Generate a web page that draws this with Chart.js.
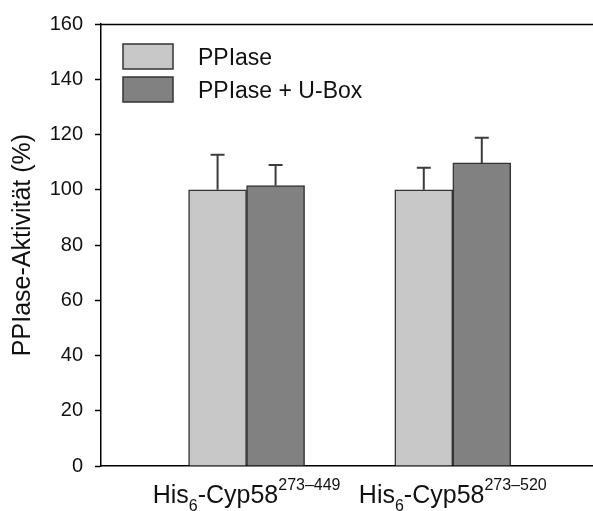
<!DOCTYPE html>
<html>
<head>
<meta charset="utf-8">
<script src="https://cdn.jsdelivr.net/npm/chart.js@4"></script>
<style>
  html, body { margin: 0; padding: 0; background: #fff; }
  #wrap { width: 593px; height: 511px; }
</style>
</head>
<body>
<div id="wrap"><canvas id="activityChart" width="593" height="511"></canvas></div>
<script>
// constructs on the x axis: _{..} is subscript, ^{..} is superscript
const categories = ['His_{6}-Cyp58^{273–449}', 'His_{6}-Cyp58^{273–520}'];
const seriesNames = ['PPIase', 'PPIase + U-Box'];
const ppiaseValues = [100, 100];
const ppiaseErrors = [12.7, 8.0];
const uboxValues = [101.5, 109.7];
const uboxErrors = [7.5, 9.1];
const yTicks = [0, 20, 40, 60, 80, 100, 120, 140, 160];

const FONT = '"Liberation Sans", Arial, sans-serif';
const errors = [ppiaseErrors, uboxErrors];

function toPoints(values) {
    return values.map((v, i) => ({ x: i + 1, y: v }));
}

// split 'His_{6}-Cyp58^{273–449}' into runs of normal/sub/sup text
function parseLabel(str) {
    const parts = [];
    const re = /([_^])\{([^}]*)\}|([^_^]+)/g;
    let m;
    while ((m = re.exec(str)) !== null) {
        if (m[3]) parts.push({ text: m[3], kind: 'normal' });
        else parts.push({ text: m[2], kind: m[1] === '_' ? 'sub' : 'sup' });
    }
    return parts;
}

const decorations = {
    id: 'decorations',
    afterDatasetsDraw(chart) {
        const ctx = chart.ctx;
        const y = chart.scales.y;
        // upward error bars
        ctx.save();
        ctx.strokeStyle = '#3c3c3c';
        ctx.lineWidth = 2;
        chart.data.datasets.forEach((ds, di) => {
            const meta = chart.getDatasetMeta(di);
            meta.data.forEach((bar, i) => {
                const top = y.getPixelForValue(ds.data[i].y + errors[di][i]);
                const base = y.getPixelForValue(ds.data[i].y);
                ctx.beginPath();
                ctx.moveTo(bar.x, base);
                ctx.lineTo(bar.x, top);
                ctx.moveTo(bar.x - 7, top);
                ctx.lineTo(bar.x + 7, top);
                ctx.stroke();
            });
        });
        ctx.restore();
    },
    afterDraw(chart) {
        const ctx = chart.ctx;
        const area = chart.chartArea;
        const x = chart.scales.x;

        ctx.save();
        // top frame line
        ctx.strokeStyle = '#000';
        ctx.lineWidth = 1.5;
        ctx.beginPath();
        ctx.moveTo(area.left, area.top + 0.5);
        ctx.lineTo(area.right, area.top + 0.5);
        ctx.stroke();

        // legend inside the plot
        chart.data.datasets.forEach((ds, i) => {
            const bx = area.left + 22;
            const by = area.top + 20 + i * 33;
            ctx.fillStyle = ds.backgroundColor;
            ctx.fillRect(bx, by, 50, 25);
            ctx.strokeStyle = '#333';
            ctx.lineWidth = 1.5;
            ctx.strokeRect(bx, by, 50, 25);
            ctx.fillStyle = '#111';
            ctx.font = '23px ' + FONT;
            ctx.textBaseline = 'alphabetic';
            ctx.textAlign = 'left';
            ctx.fillText(ds.label, bx + 75, by + 21);
        });

        // category labels with sub/superscripts
        const baseY = area.bottom + 37;
        categories.forEach((label, i) => {
            const parts = parseLabel(label);
            const fontFor = p => (p.kind === 'normal' ? '25px ' : '16px ') + FONT;
            let total = 0;
            parts.forEach(p => { ctx.font = fontFor(p); total += ctx.measureText(p.text).width; });
            let cx = x.getPixelForValue(i + 1) - total / 2;
            ctx.fillStyle = '#111';
            ctx.textAlign = 'left';
            ctx.textBaseline = 'alphabetic';
            parts.forEach(p => {
                ctx.font = fontFor(p);
                const dy = p.kind === 'sub' ? 8 : p.kind === 'sup' ? -13 : 0;
                ctx.fillText(p.text, cx, baseY + dy);
                cx += ctx.measureText(p.text).width;
            });
        });
        ctx.restore();
    }
};

new Chart(document.getElementById('activityChart'), {
    type: 'bar',
    data: {
        datasets: [{
            label: seriesNames[0],
            data: toPoints(ppiaseValues),
            backgroundColor: '#c8c8c8',
            borderColor: '#333',
            borderWidth: 1.5
        }, {
            label: seriesNames[1],
            data: toPoints(uboxValues),
            backgroundColor: '#818181',
            borderColor: '#333',
            borderWidth: 1.5
        }]
    },
    options: {
        responsive: false,
        animation: false,
        barThickness: 58,
        layout: { padding: { top: 21, right: 0, bottom: 0, left: 0 } },
        plugins: {
            legend: { display: false },
            tooltip: { enabled: false }
        },
        scales: {
            x: {
                type: 'linear',
                offset: false,
                min: 0.294,
                max: 2.68,
                grid: { display: false },
                border: { display: true, color: '#000', width: 1.5 },
                ticks: { display: false },
                afterFit: scale => { scale.height = 45; }
            },
            y: {
                min: 0,
                max: 160,
                afterBuildTicks: scale => { scale.ticks = yTicks.map(v => ({ value: v })); },
                grid: { drawOnChartArea: false, drawTicks: true, tickLength: 6, tickColor: '#000', tickWidth: 1.5 },
                border: { display: true, color: '#000', width: 1.5 },
                ticks: { color: '#111', padding: 12, font: { family: FONT, size: 20 } },
                title: {
                    display: true,
                    text: 'PPIase-Aktivität (%)',
                    color: '#111',
                    padding: { top: 8, bottom: 0 },
                    font: { family: FONT, size: 25 }
                },
                afterFit: scale => { scale.width = 101; }
            }
        }
    },
    plugins: [decorations]
});
</script>
</body>
</html>
